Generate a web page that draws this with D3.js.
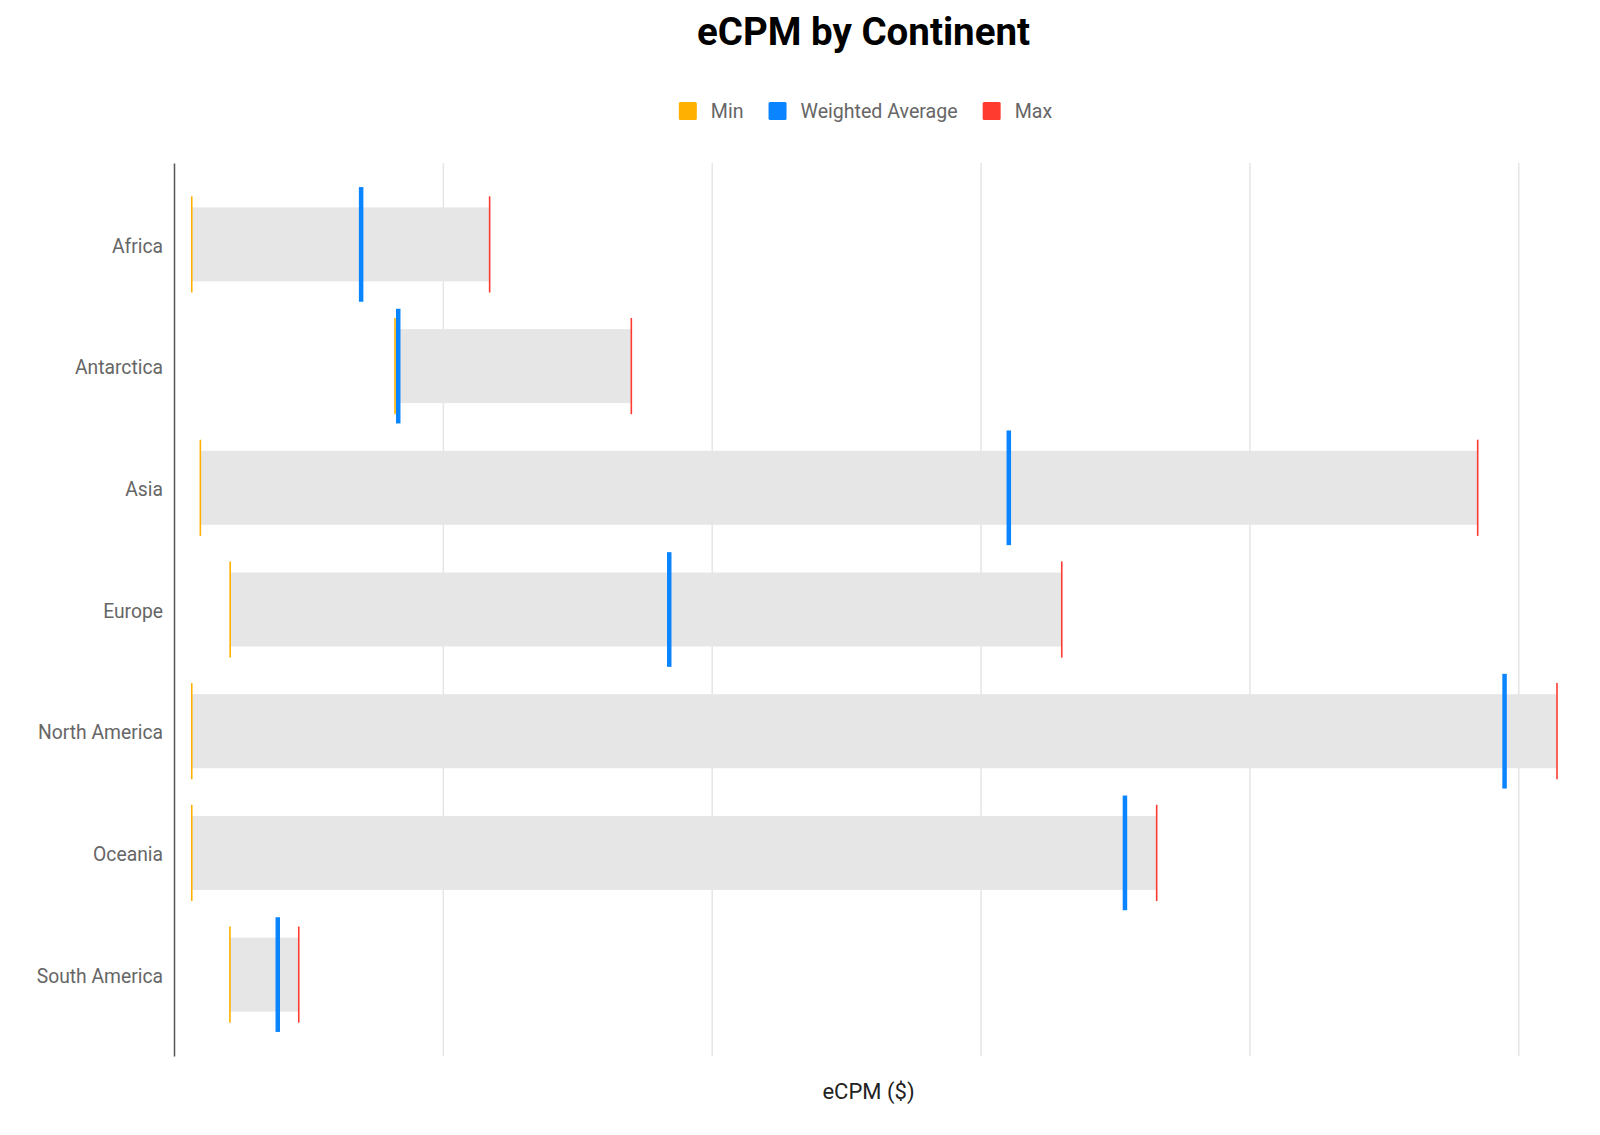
<!DOCTYPE html>
<html lang="en">
  <head>
    <meta charset="utf-8">
    <script src="https://cdn.jsdelivr.net/npm/d3@7"></script>
    <title>eCPM by Continent</title>
    <style>
      body { margin: 0; background: #fff; font-family: Roboto, "Noto Sans", sans-serif; }
    </style>
  </head>
  <body>
    <script>

    // values (eCPM in $)
    var continents = ["Africa", "Antarctica", "Asia", "Europe", "North America", "Oceania", "South America"];
    var minVals = [0.066, 0.822, 0.098, 0.209, 0.066, 0.066, 0.208];
    var avgVals = [0.696, 0.834, 3.105, 1.842, 4.949, 3.537, 0.386];
    var maxVals = [1.174, 1.701, 4.849, 3.302, 5.144, 3.655, 0.464];

    var seriesNames = ["Min", "Weighted Average", "Max"];
    var seriesColors = ["#FFB000", "#0A84FF", "#FF3B30"];

    var margin = {top: 163, left: 174, bottom: 79, right: 43},
        width = 1600 - margin.left - margin.right,
        height = 1135 - margin.top - margin.bottom;

    var data = continents.map(function(c, i) {
      return {name: c, min: minVals[i], avg: avgVals[i], max: maxVals[i]};
    });

    var x = d3.scaleLinear()
        .domain([0, d3.max(maxVals)])
        .range([0, width]);

    var y = d3.scaleBand()
        .domain(continents)
        .range([0, height])
        .paddingInner(0.392)
        .paddingOuter(0.365);

    var root = d3.select("body")
      .append("svg")
        .attr("width", 1600)
        .attr("height", 1135);

    var svg = root.append("g")
        .attr("transform", "translate(" + [margin.left, margin.top] + ")");

    // gridlines, no labels
    var grid = svg.append("g")
        .call(d3.axisBottom(x)
          .tickValues(x.ticks(5).filter(function(d) { return d > 0; }))
          .tickSize(height)
          .tickFormat(""));
    grid.select(".domain").remove();
    grid.selectAll(".tick line")
        .attr("y1", 0)
        .attr("y2", height)
        .attr("stroke", "#e5e5e5")
        .attr("stroke-width", 1.5);

    var bw = y.bandwidth();

    // range bars
    svg.selectAll(".bar")
        .data(data)
      .enter().append("rect")
        .attr("class", "bar")
        .attr("x", function(d) { return x(d.min); })
        .attr("y", function(d) { return y(d.name); })
        .attr("width", function(d) { return x(d.max) - x(d.min); })
        .attr("height", bw)
        .attr("fill", "#e6e6e6");

    function marks(key, color, ext, w) {
      svg.selectAll(".m-" + key)
          .data(data)
        .enter().append("line")
          .attr("class", "m-" + key)
          .attr("x1", function(d) { return x(d[key]); })
          .attr("x2", function(d) { return x(d[key]); })
          .attr("y1", function(d) { return y(d.name) + bw / 2 - bw * ext / 2; })
          .attr("y2", function(d) { return y(d.name) + bw / 2 + bw * ext / 2; })
          .attr("stroke", color)
          .attr("stroke-width", w);
    }
    marks("min", seriesColors[0], 1.3, 1.6);
    marks("max", seriesColors[2], 1.3, 1.6);
    marks("avg", seriesColors[1], 1.55, 4.5);

    // y axis
    var yAx = svg.append("g")
        .call(d3.axisLeft(y).tickSize(0).tickPadding(11));
    yAx.select(".domain")
        .attr("stroke", "#555")
        .attr("stroke-width", 1.5);
    yAx.selectAll("text")
        .attr("font-family", "Roboto")
        .attr("font-size", "19.3px")
        .attr("fill", "#666")
        .attr("dy", "0.42em");

    // title
    root.append("text")
        .attr("x", margin.left + width / 2 - 2)
        .attr("y", 45)
        .attr("text-anchor", "middle")
        .attr("font-family", "Roboto")
        .attr("font-weight", "bold")
        .attr("font-size", "38.5px")
        .attr("fill", "#000")
        .text("eCPM by Continent");

    // x axis title
    root.append("text")
        .attr("x", margin.left + width / 2 + 3)
        .attr("y", 1099)
        .attr("text-anchor", "middle")
        .attr("font-family", "Roboto")
        .attr("font-size", "22px")
        .attr("fill", "#222")
        .text("eCPM ($)");

    // legend
    var legend = root.append("g");
    var cx = 0;
    seriesNames.forEach(function(s, i) {
      var g = legend.append("g").attr("transform", "translate(" + cx + ",0)");
      g.append("rect")
          .attr("x", 0).attr("y", -9)
          .attr("width", 18).attr("height", 18)
          .attr("rx", 1.5)
          .attr("fill", seriesColors[i]);
      var t = g.append("text")
          .attr("x", 32)
          .attr("y", 0)
          .attr("dy", "0.36em")
          .attr("font-family", "Roboto")
          .attr("font-size", "19.6px")
          .attr("fill", "#666")
          .text(s);
      cx += 32 + t.node().getComputedTextLength() + 25;
    });
    var lw = cx - 25;
    legend.attr("transform", "translate(" + (margin.left + width / 2 - lw / 2) + ",111)");

    </script>
  </body>
</html>
